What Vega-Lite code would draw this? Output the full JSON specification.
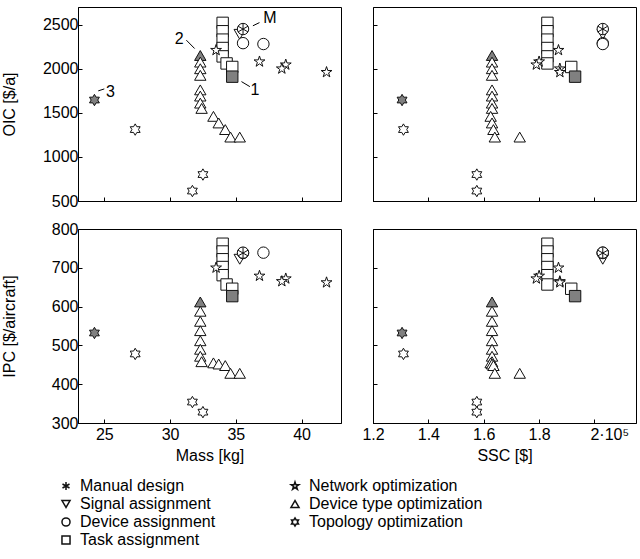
{
  "$schema": "https://vega.github.io/schema/vega-lite/v6.json",
  "padding": {"left": 0, "top": 6, "right": 0, "bottom": 0},
  "background": "white",
  "datasets": {
    "pts": [
      {"type": "Device type optimization", "Mass": 32.3, "SSC": 1.63, "OIC": 2150, "IPC": 612, "hl": 1},
      {"type": "Device type optimization", "Mass": 32.3, "SSC": 1.63, "OIC": 2075, "IPC": 588, "hl": 0},
      {"type": "Device type optimization", "Mass": 32.3, "SSC": 1.63, "OIC": 2000, "IPC": 562, "hl": 0},
      {"type": "Device type optimization", "Mass": 32.3, "SSC": 1.63, "OIC": 1925, "IPC": 538, "hl": 0},
      {"type": "Device type optimization", "Mass": 32.3, "SSC": 1.63, "OIC": 1760, "IPC": 512, "hl": 0},
      {"type": "Device type optimization", "Mass": 32.3, "SSC": 1.63, "OIC": 1690, "IPC": 490, "hl": 0},
      {"type": "Device type optimization", "Mass": 32.3, "SSC": 1.63, "OIC": 1610, "IPC": 472, "hl": 0},
      {"type": "Device type optimization", "Mass": 32.4, "SSC": 1.63, "OIC": 1550, "IPC": 458, "hl": 0},
      {"type": "Device type optimization", "Mass": 33.3, "SSC": 1.625, "OIC": 1460, "IPC": 455, "hl": 0},
      {"type": "Device type optimization", "Mass": 33.7, "SSC": 1.63, "OIC": 1385, "IPC": 452, "hl": 0},
      {"type": "Device type optimization", "Mass": 34.2, "SSC": 1.635, "OIC": 1310, "IPC": 448, "hl": 0},
      {"type": "Device type optimization", "Mass": 34.6, "SSC": 1.64, "OIC": 1225, "IPC": 428, "hl": 0},
      {"type": "Device type optimization", "Mass": 35.3, "SSC": 1.73, "OIC": 1225, "IPC": 428, "hl": 0},
      {"type": "Task assignment", "Mass": 34.0, "SSC": 1.83, "OIC": 2520, "IPC": 762, "hl": 0},
      {"type": "Task assignment", "Mass": 34.0, "SSC": 1.83, "OIC": 2425, "IPC": 742, "hl": 0},
      {"type": "Task assignment", "Mass": 34.0, "SSC": 1.83, "OIC": 2330, "IPC": 722, "hl": 0},
      {"type": "Task assignment", "Mass": 34.0, "SSC": 1.83, "OIC": 2235, "IPC": 702, "hl": 0},
      {"type": "Task assignment", "Mass": 34.0, "SSC": 1.83, "OIC": 2140, "IPC": 681, "hl": 0},
      {"type": "Task assignment", "Mass": 34.3, "SSC": 1.83, "OIC": 2060, "IPC": 657, "hl": 0},
      {"type": "Task assignment", "Mass": 34.73, "SSC": 1.916, "OIC": 2020, "IPC": 646, "hl": 0},
      {"type": "Task assignment", "Mass": 34.73, "SSC": 1.93, "OIC": 1910, "IPC": 627, "hl": 1},
      {"type": "Topology optimization", "Mass": 24.25, "SSC": 1.305, "OIC": 1645, "IPC": 532, "hl": 1},
      {"type": "Topology optimization", "Mass": 27.35, "SSC": 1.31, "OIC": 1310, "IPC": 478, "hl": 0},
      {"type": "Topology optimization", "Mass": 31.7, "SSC": 1.575, "OIC": 613, "IPC": 354, "hl": 0},
      {"type": "Topology optimization", "Mass": 32.5, "SSC": 1.575, "OIC": 800, "IPC": 328, "hl": 0},
      {"type": "Network optimization", "Mass": 33.5, "SSC": 1.87, "OIC": 2210, "IPC": 700, "hl": 0},
      {"type": "Network optimization", "Mass": 36.8, "SSC": 1.80, "OIC": 2080, "IPC": 679, "hl": 0},
      {"type": "Network optimization", "Mass": 38.8, "SSC": 1.79, "OIC": 2045, "IPC": 672, "hl": 0},
      {"type": "Network optimization", "Mass": 38.5, "SSC": 1.875, "OIC": 2000, "IPC": 665, "hl": 0},
      {"type": "Network optimization", "Mass": 41.9, "SSC": 1.875, "OIC": 1960, "IPC": 662, "hl": 0},
      {"type": "Signal assignment", "Mass": 35.3, "SSC": 2.03, "OIC": 2390, "IPC": 722, "hl": 0},
      {"type": "Device assignment", "Mass": 35.55, "SSC": 2.03, "OIC": 2450, "IPC": 738, "hl": 0},
      {"type": "Device assignment", "Mass": 35.55, "SSC": 2.03, "OIC": 2290, "IPC": 739, "hl": 0},
      {"type": "Device assignment", "Mass": 37.1, "SSC": 2.03, "OIC": 2280, "IPC": 739, "hl": 0},
      {"type": "Manual design", "Mass": 35.55, "SSC": 2.03, "OIC": 2450, "IPC": 738, "hl": 0}
    ],
    "notes": [
      {"label": "M", "Mass": 37.6, "OIC": 2570, "Mass_a": 36.3, "OIC_a": 2487, "Mass_b": 36.8, "OIC_b": 2523},
      {"label": "2", "Mass": 30.7, "OIC": 2342, "Mass_a": 31.24, "OIC_a": 2324, "Mass_b": 31.87, "OIC_b": 2229},
      {"label": "1", "Mass": 36.45, "OIC": 1760, "Mass_a": 35.43, "OIC_a": 1854, "Mass_b": 36.07, "OIC_b": 1797},
      {"label": "3", "Mass": 25.46, "OIC": 1741, "Mass_a": 24.54, "OIC_a": 1749, "Mass_b": 25.0, "OIC_b": 1771}
    ]
  },
  "columns": 2,
  "bounds": "flush",
  "spacing": {"row": 28, "column": 32},
  "concat": [
    {
      "width": 263, "height": 194,
      "layer": [
        {
          "data": {"name": "pts"},
          "mark": {"type": "point", "filled": true, "size": 130, "stroke": "#111", "strokeWidth": 1, "opacity": 1},
          "encoding": {
            "x": {"field": "Mass", "type": "quantitative", "scale": {"domain": [23, 43], "nice": false, "zero": false},
                  "axis": {"values": [25, 30, 35, 40], "labels": false, "title": null}},
            "y": {"field": "OIC", "type": "quantitative", "scale": {"domain": [500, 2700], "nice": false, "zero": false},
                  "axis": {"values": [500, 1000, 1500, 2000, 2500], "format": "d", "title": "OIC [$/a]", "titleX": -61, "titleY": 97}},
            "shape": {"field": "type", "type": "nominal",
              "scale": {
                "domain": ["Manual design", "Signal assignment", "Device assignment", "Task assignment", "Network optimization", "Device type optimization", "Topology optimization"],
                "range": ["M0,-1L0,1M-0.87,-0.5L0.87,0.5M-0.87,0.5L0.87,-0.5",
                          "triangle-down", "circle", "square",
                          "M0,-1L0.2245,-0.309L0.951,-0.309L0.363,0.118L0.588,0.809L0,0.382L-0.588,0.809L-0.363,0.118L-0.951,-0.309L-0.2245,-0.309Z",
                          "triangle-up",
                          "M0,-1L0.289,-0.5L0.866,-0.5L0.577,0L0.866,0.5L0.289,0.5L0,1L-0.289,0.5L-0.866,0.5L-0.577,0L-0.866,-0.5L-0.289,-0.5Z"]
              },
              "legend": {"orient": "none", "legendX": -20, "legendY": 471, "columns": 2, "title": null,
                         "encode": {"symbols": {"update": {"stroke": {"value": "#000"}, "strokeWidth": {"value": 0.75}, "fill": {"value": "white"}, "opacity": {"value": 1}}}}}
            },
            "fill": {"condition": {"test": "datum.hl == 1", "value": "#808080"}, "value": "white"}
          }
        },
        {
          "data": {"name": "notes"},
          "mark": {"type": "rule", "color": "#000", "strokeWidth": 1},
          "encoding": {
            "x": {"field": "Mass_a", "type": "quantitative"},
            "y": {"field": "OIC_a", "type": "quantitative"},
            "x2": {"field": "Mass_b"},
            "y2": {"field": "OIC_b"}
          }
        },
        {
          "data": {"name": "notes"},
          "mark": {"type": "text", "font": "Liberation Sans", "fontSize": 16, "color": "#000"},
          "encoding": {
            "x": {"field": "Mass", "type": "quantitative"},
            "y": {"field": "OIC", "type": "quantitative"},
            "text": {"field": "label"}
          }
        }
      ]
    },
    {
      "width": 263, "height": 194,
      "data": {"name": "pts"},
      "mark": {"type": "point", "filled": true, "size": 130, "stroke": "#111", "strokeWidth": 1, "opacity": 1},
      "encoding": {
        "x": {"field": "SSC", "type": "quantitative", "scale": {"domain": [1.2, 2.15], "nice": false, "zero": false},
              "axis": {"values": [1.2, 1.4, 1.6, 1.8, 2.0], "labels": false, "title": null}},
        "y": {"field": "OIC", "type": "quantitative", "scale": {"domain": [500, 2700], "nice": false, "zero": false},
              "axis": {"values": [500, 1000, 1500, 2000, 2500], "labels": false, "title": null}},
        "shape": {"field": "type", "type": "nominal"},
        "fill": {"condition": {"test": "datum.hl == 1", "value": "#808080"}, "value": "white"}
      }
    },
    {
      "width": 263, "height": 194,
      "data": {"name": "pts"},
      "mark": {"type": "point", "filled": true, "size": 130, "stroke": "#111", "strokeWidth": 1, "opacity": 1},
      "encoding": {
        "x": {"field": "Mass", "type": "quantitative", "scale": {"domain": [23, 43], "nice": false, "zero": false},
              "axis": {"values": [25, 30, 35, 40], "title": "Mass [kg]"}},
        "y": {"field": "IPC", "type": "quantitative", "scale": {"domain": [300, 800], "nice": false, "zero": false},
              "axis": {"values": [300, 400, 500, 600, 700, 800], "format": "d", "title": "IPC [$/aircraft]", "titleX": -61, "titleY": 97}},
        "shape": {"field": "type", "type": "nominal"},
        "fill": {"condition": {"test": "datum.hl == 1", "value": "#808080"}, "value": "white"}
      }
    },
    {
      "width": 263, "height": 194,
      "data": {"name": "pts"},
      "mark": {"type": "point", "filled": true, "size": 130, "stroke": "#111", "strokeWidth": 1, "opacity": 1},
      "encoding": {
        "x": {"field": "SSC", "type": "quantitative", "scale": {"domain": [1.2, 2.15], "nice": false, "zero": false},
              "axis": {"values": [1.2, 1.4, 1.6, 1.8, 2.0], "title": "SSC [$]",
                       "labelExpr": "datum.value == 2 ? '2·10⁵' : format(datum.value, '.1f')",
                       "labelAlign": {"condition": {"test": "datum.value == 2", "value": "left"}, "value": "center"},
                       "labelOffset": {"condition": {"test": "datum.value == 2", "value": -4.5}, "value": 0}}},
        "y": {"field": "IPC", "type": "quantitative", "scale": {"domain": [300, 800], "nice": false, "zero": false},
              "axis": {"values": [300, 400, 500, 600, 700, 800], "labels": false, "title": null}},
        "shape": {"field": "type", "type": "nominal"},
        "fill": {"condition": {"test": "datum.hl == 1", "value": "#808080"}, "value": "white"}
      }
    }
  ],
  "config": {
    "view": {"stroke": "#000", "strokeWidth": 1},
    "axis": {
      "grid": false, "domainColor": "#000", "domainWidth": 1, "tickColor": "#000", "tickSize": -4,
      "labelFont": "Liberation Sans", "labelFontSize": 16, "labelColor": "#000", "labelPadding": 4,
      "labelOverlap": false, "labelFlush": false, "minExtent": 0,
      "titleFont": "Liberation Sans", "titleFontSize": 16, "titleFontWeight": "normal", "titleColor": "#000"
    },
    "axisX": {"labelPadding": 7, "titlePadding": 5},
    "legend": {
      "labelFont": "Liberation Sans", "labelFontSize": 16, "labelColor": "#000", "labelLimit": 400,
      "symbolSize": 65, "rowPadding": 2, "columnPadding": 71, "labelOffset": 6
    }
  }
}
